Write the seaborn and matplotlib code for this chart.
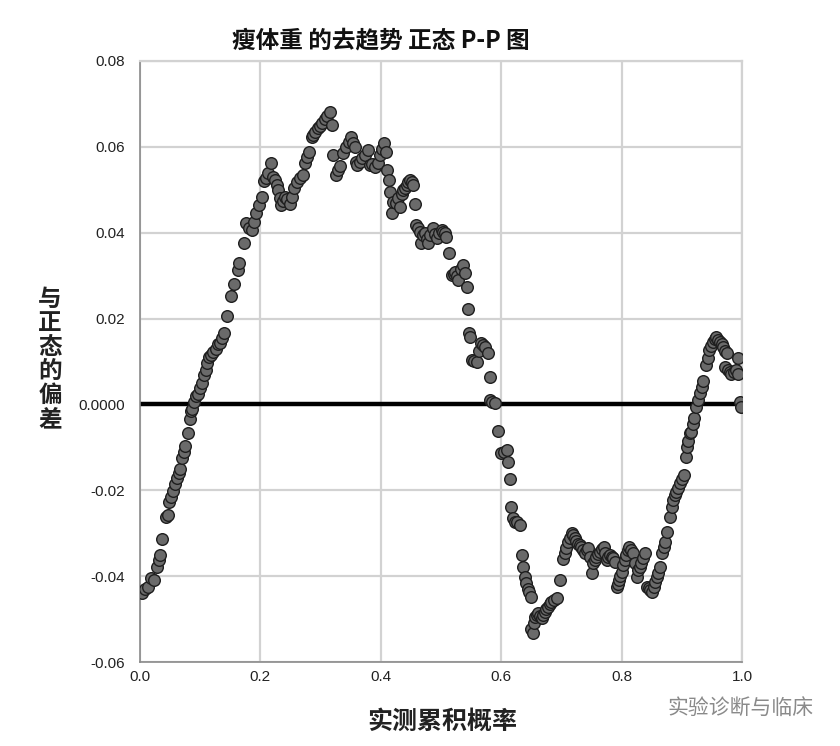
import matplotlib
matplotlib.use("Agg")
import matplotlib.pyplot as plt
import seaborn as sns
import pandas as pd
from matplotlib.ticker import FixedLocator, FixedFormatter

# ---- data (observed cumulative probability, deviation from normal) ----
obs_prob = [
    0.003, 0.008, 0.014, 0.019, 0.024, 0.028, 0.031, 0.033, 0.037, 0.044,
    0.046, 0.049, 0.052, 0.054, 0.058, 0.061, 0.064, 0.066, 0.070, 0.073,
    0.075, 0.079, 0.083, 0.085, 0.086, 0.090, 0.093, 0.096, 0.100, 0.103,
    0.106, 0.109, 0.112, 0.115, 0.118, 0.122, 0.126, 0.130, 0.133, 0.137,
    0.140, 0.145, 0.151, 0.156, 0.162, 0.165, 0.172, 0.176, 0.181, 0.186,
    0.190, 0.193, 0.197, 0.202, 0.206, 0.210, 0.213, 0.218, 0.221, 0.224,
    0.227, 0.230, 0.233, 0.235, 0.238, 0.241, 0.245, 0.249, 0.252, 0.256,
    0.260, 0.266, 0.270, 0.274, 0.277, 0.281, 0.285, 0.288, 0.291, 0.296,
    0.299, 0.302, 0.307, 0.311, 0.316, 0.319, 0.321, 0.326, 0.329, 0.333,
    0.338, 0.343, 0.347, 0.350, 0.354, 0.357, 0.359, 0.361, 0.365, 0.368,
    0.374, 0.379, 0.382, 0.386, 0.390, 0.396, 0.399, 0.402, 0.405, 0.408,
    0.411, 0.414, 0.415, 0.418, 0.421, 0.425, 0.429, 0.432, 0.435, 0.437,
    0.440, 0.443, 0.446, 0.449, 0.452, 0.454, 0.457, 0.459, 0.462, 0.465,
    0.466, 0.470, 0.473, 0.476, 0.478, 0.482, 0.487, 0.490, 0.493, 0.497,
    0.501, 0.504, 0.507, 0.509, 0.514, 0.518, 0.521, 0.523, 0.526, 0.529,
    0.533, 0.536, 0.540, 0.543, 0.545, 0.546, 0.548, 0.551, 0.555, 0.559,
    0.563, 0.567, 0.570, 0.573, 0.578, 0.581, 0.582, 0.585, 0.589, 0.595,
    0.600, 0.605, 0.609, 0.611, 0.614, 0.617, 0.620, 0.623, 0.627, 0.631,
    0.634, 0.636, 0.639, 0.642, 0.645, 0.647, 0.649, 0.650, 0.652, 0.654,
    0.656, 0.659, 0.661, 0.664, 0.667, 0.670, 0.672, 0.675, 0.678, 0.681,
    0.683, 0.688, 0.692, 0.697, 0.703, 0.706, 0.708, 0.711, 0.714, 0.717,
    0.720, 0.722, 0.725, 0.728, 0.731, 0.733, 0.736, 0.739, 0.742, 0.744,
    0.747, 0.750, 0.753, 0.756, 0.758, 0.761, 0.764, 0.767, 0.770, 0.773,
    0.775, 0.778, 0.781, 0.784, 0.786, 0.789, 0.792, 0.794, 0.796, 0.798,
    0.800, 0.803, 0.806, 0.808, 0.811, 0.813, 0.816, 0.819, 0.822, 0.825,
    0.828, 0.831, 0.833, 0.836, 0.839, 0.842, 0.845, 0.847, 0.850, 0.853,
    0.855, 0.858, 0.861, 0.864, 0.867, 0.870, 0.872, 0.875, 0.880, 0.883,
    0.886, 0.889, 0.891, 0.894, 0.897, 0.900, 0.903, 0.907, 0.908, 0.911,
    0.913, 0.916, 0.919, 0.921, 0.924, 0.927, 0.930, 0.933, 0.935, 0.941,
    0.943, 0.946, 0.949, 0.952, 0.955, 0.957, 0.960, 0.963, 0.966, 0.969,
    0.972, 0.975, 0.971, 0.977, 0.980, 0.982, 0.987, 0.990, 0.993, 0.994,
    0.996, 0.999,
]
deviation = [
    -0.0440, -0.0430, -0.0425, -0.0405, -0.0410, -0.0378, -0.0362, -0.0351, -0.0314, -0.0263,
    -0.0258, -0.0227, -0.0215, -0.0202, -0.0185, -0.0172, -0.0160, -0.0151, -0.0124, -0.0110,
    -0.0097, -0.0067, -0.0035, -0.0015, -0.0010, 0.0005, 0.0020, 0.0025, 0.0038, 0.0050,
    0.0068, 0.0080, 0.0097, 0.0110, 0.0115, 0.0123, 0.0130, 0.0140, 0.0143, 0.0155,
    0.0167, 0.0205, 0.0253, 0.0280, 0.0313, 0.0329, 0.0375, 0.0423, 0.0410, 0.0406,
    0.0425, 0.0445, 0.0464, 0.0484, 0.0521, 0.0528, 0.0538, 0.0562, 0.0530, 0.0523,
    0.0510, 0.0499, 0.0480, 0.0464, 0.0475, 0.0484, 0.0478, 0.0468, 0.0484, 0.0505,
    0.0519, 0.0527, 0.0534, 0.0562, 0.0577, 0.0589, 0.0622, 0.0628, 0.0635, 0.0643,
    0.0648, 0.0655, 0.0666, 0.0672, 0.0682, 0.0651, 0.0581, 0.0534, 0.0545, 0.0555,
    0.0585, 0.0600, 0.0612, 0.0624, 0.0608, 0.0600, 0.0565, 0.0558, 0.0565, 0.0573,
    0.0581, 0.0593, 0.0558, 0.0560, 0.0554, 0.0562, 0.0581, 0.0595, 0.0608, 0.0589,
    0.0546, 0.0523, 0.0495, 0.0445, 0.0472, 0.0470, 0.0480, 0.0461, 0.0490, 0.0499,
    0.0505, 0.0511, 0.0518, 0.0523, 0.0518, 0.0511, 0.0467, 0.0418, 0.0410, 0.0402,
    0.0375, 0.0395, 0.0399, 0.0385, 0.0375, 0.0395, 0.0410, 0.0398, 0.0387, 0.0400,
    0.0406, 0.0402, 0.0399, 0.0390, 0.0352, 0.0301, 0.0303, 0.0309, 0.0300, 0.0290,
    0.0315, 0.0325, 0.0305, 0.0274, 0.0222, 0.0166, 0.0158, 0.0103, 0.0101, 0.0100,
    0.0125, 0.0142, 0.0138, 0.0134, 0.0119, 0.0065, 0.0010, 0.0005, 0.0003, -0.0063,
    -0.0114, -0.0110, -0.0106, -0.0133, -0.0174, -0.0238, -0.0265, -0.0273, -0.0275, -0.0281,
    -0.0351, -0.0378, -0.0401, -0.0417, -0.0430, -0.0436, -0.0448, -0.0522, -0.0533, -0.0510,
    -0.0495, -0.0490, -0.0487, -0.0492, -0.0498, -0.0490, -0.0483, -0.0477, -0.0471, -0.0465,
    -0.0460, -0.0455, -0.0452, -0.0409, -0.0361, -0.0345, -0.0335, -0.0320, -0.0310, -0.0300,
    -0.0305, -0.0312, -0.0318, -0.0324, -0.0328, -0.0331, -0.0340, -0.0347, -0.0340, -0.0335,
    -0.0355, -0.0393, -0.0370, -0.0362, -0.0355, -0.0348, -0.0343, -0.0337, -0.0331, -0.0345,
    -0.0362, -0.0356, -0.0351, -0.0355, -0.0358, -0.0366, -0.0425, -0.0418, -0.0409, -0.0400,
    -0.0390, -0.0374, -0.0362, -0.0351, -0.0340, -0.0331, -0.0338, -0.0347, -0.0370, -0.0401,
    -0.0386, -0.0378, -0.0370, -0.0358, -0.0347, -0.0425, -0.0428, -0.0432, -0.0436, -0.0425,
    -0.0413, -0.0403, -0.0393, -0.0378, -0.0347, -0.0333, -0.0320, -0.0297, -0.0262, -0.0240,
    -0.0223, -0.0211, -0.0203, -0.0195, -0.0184, -0.0174, -0.0164, -0.0122, -0.0099, -0.0085,
    -0.0067, -0.0064, -0.0045, -0.0032, -0.0005, 0.0010, 0.0026, 0.0040, 0.0055, 0.0092,
    0.0107, 0.0127, 0.0137, 0.0146, 0.0152, 0.0158, 0.0150, 0.0146, 0.0140, 0.0134,
    0.0125, 0.0119, 0.0088, 0.0080, 0.0075, 0.0072, 0.0075, 0.0080, 0.0072, 0.0107,
    0.0006, -0.0005,
]

x_ticks = [0.0, 0.2, 0.4, 0.6, 0.8, 1.0]
x_tick_labels = ["0.0", "0.2", "0.4", "0.6", "0.8", "1.0"]
y_ticks = [-0.06, -0.04, -0.02, 0.0, 0.02, 0.04, 0.06, 0.08]
y_tick_labels = ["-0.06", "-0.04", "-0.02", "0.0000", "0.02", "0.04", "0.06", "0.08"]

title = "瘦体重 的去趋势 正态 P-P 图"
x_label = "实测累积概率"
y_label = "与\n正\n态\n的\n偏\n差"
watermark = "实验诊断与临床"

df = pd.DataFrame({"obs": obs_prob, "dev": deviation})

sns.set_theme(style="white")
plt.rcParams["font.family"] = ["Noto Sans CJK SC", "DejaVu Sans"]

fig = plt.figure(figsize=(8.4, 7.46), dpi=100)
ax = fig.add_axes([140 / 840, 1 - 662 / 746, 602 / 840, 601 / 746])

ax.set_xlim(0.0, 1.0)
ax.set_ylim(-0.06, 0.08)

ax.xaxis.set_major_locator(FixedLocator(x_ticks))
ax.xaxis.set_major_formatter(FixedFormatter(x_tick_labels))
ax.yaxis.set_major_locator(FixedLocator(y_ticks))
ax.yaxis.set_major_formatter(FixedFormatter(y_tick_labels))

ax.grid(True, color="#d2d2d2", linewidth=1.6, zorder=0)
ax.set_axisbelow(True)

ax.axhline(0.0, color="black", linewidth=3.2, zorder=2)

sns.scatterplot(data=df, x="obs", y="dev", ax=ax, s=70, color="#6a6a6a",
                edgecolor="#1e1e1e", linewidth=1.0, zorder=3, legend=False)

for side in ["top", "right"]:
    ax.spines[side].set_color("#d2d2d2")
    ax.spines[side].set_linewidth(1.6)
for side in ["left", "bottom"]:
    ax.spines[side].set_color("#8a8a8a")
    ax.spines[side].set_linewidth(1.2)

ax.tick_params(axis="both", which="major", length=0, labelsize=11,
               labelcolor="#222222")
ax.tick_params(axis="y", pad=11)
ax.tick_params(axis="x", pad=6)
for lab in ax.get_xticklabels() + ax.get_yticklabels():
    lab.set_fontfamily(["Liberation Sans", "DejaVu Sans"])

ax.set_xlabel("")
ax.set_ylabel("")

fig.text(381 / 840, 1 - 40 / 746, title, ha="center", va="center",
         fontsize=17, fontweight="bold", color="#111111")
fig.text(442 / 840, 1 - 722 / 746, x_label, ha="center", va="center",
         fontsize=18, fontweight="bold", color="#222222")
fig.text(50 / 840, 1 - 359 / 746, y_label, ha="center", va="center",
         fontsize=17, fontweight="bold", color="#222222", linespacing=1.0)
fig.text(741 / 840, 1 - 708 / 746, watermark, ha="center", va="center",
         fontsize=15, color="#8a8a8a")

fig.savefig("out.png", dpi=100)
